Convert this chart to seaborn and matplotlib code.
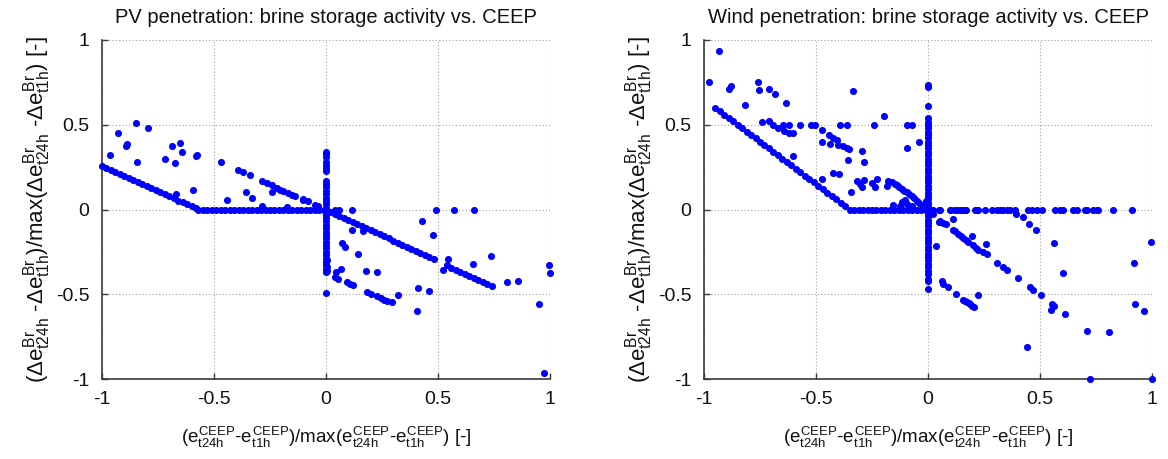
import matplotlib
matplotlib.use("Agg")
import matplotlib.pyplot as plt
import seaborn as sns
import pandas as pd

# ---------------- data ----------------
tick_vals = [-1, -0.5, 0, 0.5, 1]
tick_labels = ["-1", "-0.5", "0", "0.5", "1"]
titles = ["PV penetration: brine storage activity vs. CEEP",
          "Wind penetration: brine storage activity vs. CEEP"]

# PV penetration
pv_diag_left_x = [-1.00, -0.98, -0.96, -0.94, -0.92, -0.90, -0.88, -0.86, -0.84, -0.82, -0.80,
                  -0.78, -0.76, -0.74, -0.72, -0.70, -0.68, -0.66, -0.64, -0.62, -0.60, -0.58]
pv_diag_left_y = [0.255, 0.243, 0.231, 0.219, 0.208, 0.196, 0.184, 0.172, 0.160, 0.148, 0.136,
                  0.125, 0.113, 0.101, 0.089, 0.077, 0.065, 0.053, 0.042, 0.030, 0.018, 0.006]
pv_flat_x = [-0.57, -0.55, -0.53, -0.51, -0.49, -0.47, -0.45, -0.43, -0.41, -0.39, -0.37, -0.35,
             -0.33, -0.31, -0.29, -0.27, -0.25, -0.23, -0.21, -0.19, -0.17, -0.15, -0.13, -0.11,
             -0.09, -0.07, -0.05, -0.03, -0.01]
pv_flat_y = [0.0, 0.0, 0.0, 0.0, 0.0, 0.0, 0.0, 0.0, 0.0, 0.0, 0.0, 0.0, 0.0, 0.0, 0.0, 0.0,
             0.0, 0.0, 0.0, 0.0, 0.0, 0.0, 0.0, 0.0, 0.0, 0.0, 0.0, 0.0, 0.0]
pv_diag_right_x = [0.00, 0.02, 0.04, 0.06, 0.08, 0.10, 0.12, 0.14, 0.16, 0.18, 0.20, 0.22, 0.24,
                   0.26, 0.28, 0.30, 0.32, 0.34, 0.36, 0.38, 0.40, 0.42, 0.44, 0.46, 0.48,
                   0.54, 0.56, 0.58, 0.60, 0.62, 0.64, 0.66, 0.68, 0.70, 0.72, 0.74]
pv_diag_right_y = [0.0, -0.012, -0.024, -0.037, -0.049, -0.061, -0.073, -0.086, -0.098, -0.110,
                   -0.122, -0.135, -0.147, -0.159, -0.171, -0.184, -0.196, -0.208, -0.220, -0.233,
                   -0.245, -0.257, -0.269, -0.282, -0.294,
                   -0.330, -0.343, -0.355, -0.367, -0.379, -0.392, -0.404, -0.416, -0.428, -0.441, -0.453]
pv_vert_x = [0.0, 0.0, 0.0, 0.0, 0.0, 0.0, 0.0, 0.0, 0.0, 0.0, 0.0, 0.0, 0.0, 0.0, 0.0, 0.0,
             0.0, 0.0, 0.0, 0.0, 0.0, 0.0, 0.0, 0.0, 0.0, 0.0, 0.0, 0.0, 0.0, 0.0, 0.0, 0.0,
             0.0, 0.0, 0.0, 0.004, 0.004, 0.004, 0.0]
pv_vert_y = [0.338, 0.325, 0.310, 0.280, 0.260, 0.245, 0.225, 0.170, 0.150, 0.130, 0.110, 0.090,
             0.070, 0.050, 0.030, 0.010, -0.010, -0.030, -0.050, -0.070, -0.090, -0.110, -0.130,
             -0.150, -0.170, -0.190, -0.210, -0.230, -0.250, -0.270, -0.290, -0.310, -0.330,
             -0.350, -0.370, -0.300, -0.340, -0.365, -0.494]
pv_scatter_x = [-0.964, -0.930, -0.894, -0.890, -0.850, -0.844, -0.796, -0.719, -0.689, -0.676,
                -0.653, -0.641, -0.670, -0.592, -0.582, -0.577, -0.467, -0.443, -0.357, -0.332,
                -0.240, -0.287, -0.175,
                -0.391, -0.369, -0.339, -0.284, -0.265, -0.242, -0.220, -0.205, -0.190, -0.168,
                -0.153, -0.138, -0.104, -0.079, -0.049, -0.034, -0.101,
                0.040, 0.060, 0.115, 0.118, 0.167, 0.070, 0.085, 0.144, 0.067, 0.045, 0.040, 0.055,
                0.092, 0.107, 0.119, 0.179, 0.226, 0.182, 0.199, 0.229, 0.244, 0.259, 0.274, 0.293,
                0.320, 0.405, 0.412, 0.461, 0.427, 0.476, 0.490, 0.573, 0.661, 0.543, 0.524, 0.655,
                0.737, 0.810, 0.856, 0.997, 1.000, 0.952, 0.975]
pv_scatter_y = [0.324, 0.454, 0.372, 0.388, 0.511, 0.281, 0.482, 0.297, 0.372, 0.273,
                0.393, 0.338, 0.093, 0.116, 0.317, 0.324, 0.281, 0.057, 0.102, 0.067,
                0.102, 0.018, 0.014,
                0.234, 0.224, 0.206, 0.169, 0.157, 0.142, 0.126, 0.116, 0.108, 0.096,
                0.088, 0.078, 0.061, 0.049, 0.029, 0.019, 0.057,
                0.0, 0.0, 0.0, -0.120, -0.124, -0.199, -0.222, -0.265, -0.350, -0.370, -0.399, -0.409,
                -0.429, -0.438, -0.448, -0.360, -0.370, -0.484, -0.497, -0.513, -0.523, -0.533, -0.541,
                -0.547, -0.503, -0.596, -0.464, -0.478, -0.065, -0.149, 0.0, 0.0, 0.0, -0.291, -0.354,
                -0.319, -0.277, -0.425, -0.419, -0.326, -0.376, -0.556, -0.963]

# Wind penetration
wind_diag_x = [-0.95, -0.93, -0.91, -0.89, -0.87, -0.85, -0.83, -0.81, -0.79, -0.77, -0.75, -0.73,
               -0.71, -0.69, -0.67, -0.65, -0.63, -0.61, -0.59, -0.57, -0.55, -0.53, -0.51, -0.49,
               -0.47, -0.45, -0.43, -0.41, -0.39, -0.37, -0.35]
wind_diag_y = [0.60, 0.58, 0.56, 0.54, 0.52, 0.50, 0.48, 0.46, 0.44, 0.42, 0.40, 0.38,
               0.36, 0.34, 0.32, 0.30, 0.28, 0.26, 0.24, 0.22, 0.20, 0.18, 0.16, 0.14,
               0.12, 0.10, 0.08, 0.06, 0.04, 0.02, 0.0]
wind_flat_x = [-0.33, -0.31, -0.29, -0.27, -0.25, -0.23, -0.21, -0.19, -0.17, -0.15, -0.13, -0.11,
               -0.09, -0.07, -0.05, -0.03, -0.01]
wind_flat_y = [0.0, 0.0, 0.0, 0.0, 0.0, 0.0, 0.0, 0.0, 0.0, 0.0, 0.0, 0.0, 0.0, 0.0, 0.0, 0.0, 0.0]
wind_vert_y = [0.736, 0.722, 0.608, 0.541, 0.515, 0.50, 0.48, 0.46, 0.44, 0.42, 0.40, 0.38, 0.36,
               0.34, 0.32, 0.30, 0.28, 0.26, 0.24, 0.22, 0.20, 0.18, 0.16, 0.14, 0.12, 0.10, 0.08,
               0.06, 0.04, 0.02, 0.0, -0.02, -0.04, -0.06, -0.08, -0.10, -0.12, -0.14, -0.16,
               -0.18, -0.20, -0.22, -0.24, -0.26, -0.28, -0.30, -0.32, -0.34, -0.36, -0.38,
               -0.409, -0.419, -0.468]
wind_vert_x = [0.0, 0.0, 0.0, 0.0, 0.0, 0.0, 0.0, 0.0, 0.0, 0.0, 0.0, 0.0, 0.0,
               0.0, 0.0, 0.0, 0.0, 0.0, 0.0, 0.0, 0.0, 0.0, 0.0, 0.0, 0.0, 0.0, 0.0,
               0.0, 0.0, 0.0, 0.0, 0.0, 0.0, 0.0, 0.0, 0.0, 0.0, 0.0, 0.0,
               0.0, 0.0, 0.0, 0.0, 0.0, 0.0, 0.0, 0.0, 0.0, 0.0, 0.0,
               0.0, 0.0, 0.0]
wind_scatter_x = [-0.978, -0.933, -0.887, -0.879, -0.817, -0.760, -0.753, -0.711, -0.682, -0.634,
                  -0.743, -0.708, -0.690, -0.668, -0.646, -0.643, -0.621, -0.620, -0.602, -0.571,
                  -0.602, -0.524, -0.504, -0.475, -0.475, -0.440, -0.425, -0.408, -0.400, -0.381,
                  -0.363, -0.351, -0.437, -0.393, -0.363, -0.425, -0.397, -0.475, -0.356, -0.345,
                  -0.333, -0.296, -0.286, -0.318, -0.304, -0.296, -0.284, -0.251, -0.237, -0.226,
                  -0.241, -0.196, -0.184,
                  -0.177, -0.162, -0.148, -0.140, -0.129, -0.118, -0.107, -0.095, -0.084, -0.073,
                  -0.062, -0.050, -0.039, -0.028, -0.015,
                  -0.155, -0.118, -0.103, -0.125, -0.092, -0.073, -0.009, -0.013, -0.095, -0.073,
                  -0.095, -0.039,
                  0.024, 0.050, 0.054, 0.098, 0.101, 0.121, 0.128, 0.143, 0.150, 0.165, 0.168, 0.210,
                  0.217, 0.225, 0.254, 0.284, 0.306, 0.321, 0.336, 0.351, 0.366, 0.388, 0.448, 0.463,
                  0.485, 0.507, 0.567, 0.589, 0.601, 0.649, 0.664, 0.701, 0.708, 0.738, 0.753, 0.760,
                  0.827, 0.909,
                  0.024, 0.051, 0.068, 0.080, 0.054, 0.110, 0.036, 0.110, 0.122, 0.135, 0.147, 0.158,
                  0.169, 0.180, 0.195, 0.202, 0.213, 0.225, 0.247, 0.262, 0.259, 0.310, 0.336, 0.351,
                  0.403, 0.455, 0.470, 0.504, 0.393, 0.423, 0.451, 0.482, 0.061, 0.068, 0.091, 0.125,
                  0.158, 0.166, 0.173, 0.181, 0.188, 0.197, 0.205, 0.225, 0.563, 0.604, 0.552, 0.563,
                  0.548, 0.613, 0.440, 0.708, 0.807, 0.723, 1.000, 0.994, 0.921, 0.924, 0.964]
wind_scatter_y = [0.751, 0.934, 0.712, 0.726, 0.619, 0.755, 0.706, 0.708, 0.680, 0.631,
                  0.519, 0.525, 0.496, 0.482, 0.496, 0.466, 0.496, 0.452, 0.452, 0.496,
                  0.313, 0.496, 0.496, 0.470, 0.401, 0.437, 0.423, 0.411, 0.378, 0.372,
                  0.362, 0.354, 0.388, 0.496, 0.496, 0.214, 0.211, 0.181, 0.293, 0.102,
                  0.702, 0.344, 0.283, 0.167, 0.152, 0.132, 0.175, 0.155, 0.132, 0.177,
                  0.496, 0.549, 0.136,
                  0.171, 0.161, 0.150, 0.142, 0.132, 0.122, 0.112, 0.102, 0.090, 0.077,
                  0.066, 0.053, 0.039, 0.024, 0.012,
                  0.024, 0.043, 0.057, 0.018, 0.034, 0.018, 0.053, 0.029, 0.496, 0.496,
                  0.364, 0.397,
                  0.0, 0.0, 0.0, 0.0, 0.0, 0.0, 0.0, 0.0, 0.0, 0.0, 0.0, 0.0,
                  0.0, 0.0, 0.0, 0.0, 0.0, 0.0, 0.0, 0.0, 0.0, 0.0, 0.0, 0.0,
                  0.0, 0.0, 0.0, 0.0, 0.0, 0.0, 0.0, 0.0, 0.0, 0.0, 0.0, 0.0,
                  0.0, 0.0,
                  -0.026, -0.075, -0.081, -0.085, -0.065, -0.055, -0.216, -0.118, -0.128, -0.143,
                  -0.155, -0.167, -0.180, -0.193, -0.159, -0.212, -0.225, -0.238, -0.252, -0.265,
                  -0.202, -0.315, -0.340, -0.354, -0.405, -0.458, -0.474, -0.507, -0.026, -0.045,
                  -0.085, -0.118, -0.419, -0.438, -0.458, -0.501, -0.533, -0.540, -0.547, -0.553,
                  -0.560, -0.568, -0.576, -0.503, -0.199, -0.372, -0.556, -0.568, -0.592, -0.615,
                  -0.812, -0.714, -0.720, -1.000, -1.000, -0.189, -0.317, -0.556, -0.596]

pv_df = pd.DataFrame({
    "x": pv_diag_left_x + pv_flat_x + pv_diag_right_x + pv_vert_x + pv_scatter_x,
    "y": pv_diag_left_y + pv_flat_y + pv_diag_right_y + pv_vert_y + pv_scatter_y,
})
wind_df = pd.DataFrame({
    "x": wind_diag_x + wind_flat_x + wind_vert_x + wind_scatter_x,
    "y": wind_diag_y + wind_flat_y + wind_vert_y + wind_scatter_y,
})

# ---------------- style ----------------
sns.set_theme(style="ticks")
plt.rcParams["font.family"] = ["Liberation Sans", "DejaVu Sans"]
plt.rcParams["mathtext.fontset"] = "custom"
plt.rcParams["mathtext.rm"] = "Liberation Sans"
plt.rcParams["mathtext.it"] = "Liberation Sans"
plt.rcParams["mathtext.bf"] = "Liberation Sans:bold"

xlabel = (r"$(e^{CEEP}_{t24h}$-$e^{CEEP}_{t1h})$/max$(e^{CEEP}_{t24h}$-$e^{CEEP}_{t1h})$ [-]")
ylabel = (r"$(\Delta e^{Br}_{t24h}$ -$\Delta e^{Br}_{t1h})$/max$(\Delta e^{Br}_{t24h}$ -$\Delta e^{Br}_{t1h})$ [-]")

W, H = 1168, 459
fig = plt.figure(figsize=(W / 100, H / 100), dpi=100)
ax_l = fig.add_axes([102 / W, 1 - 379 / H, 448 / W, 339 / H])
ax_r = fig.add_axes([704 / W, 1 - 379 / H, 448 / W, 339 / H])

for ax, df, title in [(ax_l, pv_df, titles[0]), (ax_r, wind_df, titles[1])]:
    sns.scatterplot(data=df, x="x", y="y", ax=ax, color="#0000ff", s=26,
                    linewidth=0, clip_on=False, zorder=3)
    ax.set_xlim(-1, 1)
    ax.set_ylim(-1, 1)
    ax.set_xticks(tick_vals)
    ax.set_xticklabels(tick_labels)
    ax.set_yticks(tick_vals)
    ax.set_yticklabels(tick_labels)
    ax.grid(True, linestyle=(0, (1, 2)), color="#a0a0a0", linewidth=0.8)
    ax.set_axisbelow(True)
    for s in ["top", "right"]:
        ax.spines[s].set_visible(False)
    for s in ["left", "bottom"]:
        ax.spines[s].set_color("#3a3a3a")
        ax.spines[s].set_linewidth(1.2)
    ax.tick_params(direction="in", length=4, width=1, colors="#3a3a3a",
                   labelsize=14, labelcolor="#111111", pad=9)
    ax.set_title(title, fontsize=14.5, color="#111111", pad=12)
    ax.set_xlabel(xlabel, fontsize=13.5, color="#111111", labelpad=12)
    ax.set_ylabel(ylabel, fontsize=16, color="#111111", labelpad=2)

fig.savefig("out.png", dpi=100)
